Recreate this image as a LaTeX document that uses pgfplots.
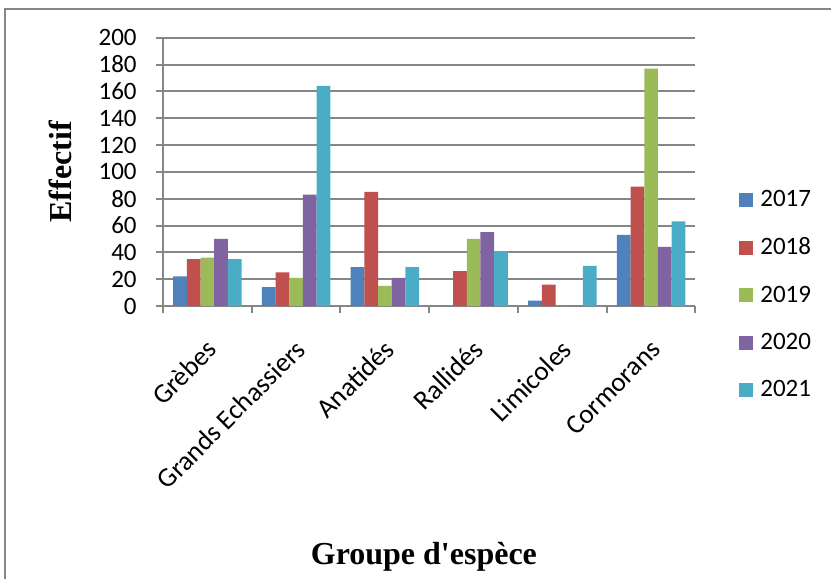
\documentclass[border=0pt]{standalone}
\usepackage{fontspec}
\setmainfont{Carlito}
\newfontfamily\tnr{Liberation Serif}
\usepackage{pgfplots}
\pgfplotsset{compat=1.18}
\definecolor{cA}{HTML}{4F81BD}
\definecolor{cB}{HTML}{C0504D}
\definecolor{cC}{HTML}{9BBB59}
\definecolor{cD}{HTML}{8064A2}
\definecolor{cE}{HTML}{4BACC6}
\definecolor{gridgray}{HTML}{868686}
\begin{document}
\begin{tikzpicture}
\begin{axis}[
  at={(0,0)}, anchor=south west,
  scale only axis, width=266.25pt, height=134.15pt,
  xmin=-0.5, xmax=5.5, ymin=0, ymax=200,
  ybar=0pt, bar width=6.84pt,
  xtick={0,1,2,3,4,5},
  xticklabels={Grèbes, Grands Echassiers, Anatidés, Rallidés, Limicoles, Cormorans},
  minor xtick={-0.5,0.5,1.5,2.5,3.5,4.5,5.5},
  ytick={0,20,...,200}, minor ytick={0,20,...,200},
  major tick length=0pt, minor tick length=3.5pt, tick align=outside,
  tick style={gridgray, line width=1pt},
  axis x line*=bottom, axis y line*=left,
  axis line style={gridgray, line width=1pt},
  ymajorgrids, grid style={gridgray, line width=1pt},
  /pgf/number format/assume math mode=true,
  yticklabel style={font=\fontsize{12.5}{15}\selectfont, anchor=east, inner sep=0pt, xshift=-13pt},
  xticklabel style={font=\fontsize{13.6}{15}\selectfont, xshift=2.4pt, yshift=-19.3pt, rotate=45, anchor=east, inner sep=0pt},
  xlabel={\tnr\bfseries\fontsize{16}{19}\selectfont Groupe d\textquotesingle esp\`ece},
  ylabel={\tnr\bfseries\fontsize{16}{19}\selectfont Effectif},
  every axis x label/.style={at={(axis description cs:0.490,-0.9355)}, anchor=center},
  every axis y label/.style={at={(axis description cs:-0.1934,0.5)}, rotate=90, anchor=center},
  legend style={at={(1.0704,0.041)}, anchor=west, draw=none, fill=none,
    font=\fontsize{12.5}{15}\selectfont, row sep=14.1pt,
    nodes={inner sep=0pt}},
  legend cell align=left,
  /tikz/every odd column/.append style={column sep=3.5pt},
  legend image code/.code={\path[#1] (0pt,-3.5pt) rectangle (7pt,3.5pt);},
]
\addplot[fill=cA, draw=none] coordinates {(0,22) (1,14) (2,29) (3,0) (4,4) (5,53)};
\addplot[fill=cB, draw=none] coordinates {(0,35) (1,25) (2,85) (3,26) (4,16) (5,89)};
\addplot[fill=cC, draw=none] coordinates {(0,36) (1,21) (2,15) (3,50) (4,0) (5,177)};
\addplot[fill=cD, draw=none] coordinates {(0,50) (1,83) (2,21) (3,55) (4,0) (5,44)};
\addplot[fill=cE, draw=none] coordinates {(0,35) (1,164) (2,29) (3,41) (4,30) (5,63)};
\legend{2017,2018,2019,2020,2021}
\end{axis}
\draw[gridgray, line width=1pt] (-79pt,-150pt) |- (350pt,148.5pt);
\pgfresetboundingbox
\path[use as bounding box] (-81.5pt,-136.5pt) rectangle (334pt,153pt);
\end{tikzpicture}
\end{document}
